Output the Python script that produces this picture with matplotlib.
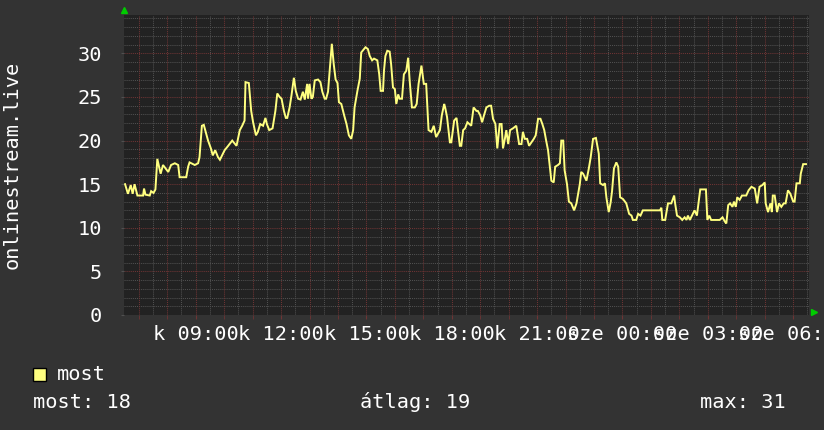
"""
onlinestream.live listener graph, one day (RRDtool look).
"""

import numpy as np
import matplotlib
matplotlib.use("Agg")
import matplotlib.pyplot as plt
from matplotlib.patches import Rectangle


# ─── Data ────────────────────────────────────────────
# minutes after Tuesday 06:30, listeners
MINUTES = [
    1, 7, 13, 17, 21, 27, 39, 41, 44, 53, 56, 61, 65, 69, 76, 81, 92, 98, 106, 113,
    116, 130, 134, 137, 148, 155, 158, 163, 167, 176, 182, 186, 191, 197, 201, 211, 217, 227, 236, 243,
    248, 253, 255, 262, 267, 271, 277, 281, 286, 292, 297, 300, 305, 312, 318, 322, 327, 331, 336, 340,
    343, 348, 352, 357, 361, 366, 371, 376, 380, 385, 387, 390, 394, 397, 401, 408, 413, 417, 422, 425,
    429, 433, 437, 441, 445, 449, 452, 457, 463, 468, 473, 478, 482, 485, 491, 496, 499, 505, 508, 513,
    517, 522, 526, 533, 537, 540, 545, 547, 550, 554, 559, 562, 566, 570, 573, 577, 580, 585, 589, 594,
    598, 601, 606, 612, 616, 620, 626, 631, 636, 641, 647, 652, 657, 661, 665, 669, 674, 676, 680, 686,
    689, 695, 700, 703, 707, 710, 714, 718, 723, 731, 736, 742, 745, 750, 754, 758, 763, 769, 773, 777,
    782, 786, 791, 795, 798, 802, 805, 809, 813, 819, 826, 832, 837, 840, 844, 849, 853, 858, 863, 867,
    872, 877, 881, 885, 889, 893, 900, 905, 908, 914, 918, 921, 925, 928, 933, 937, 942, 948, 953, 960,
    963, 967, 974, 979, 983, 988, 994, 1000, 1003, 1009, 1013, 1016, 1021, 1025, 1028, 1032, 1037, 1041, 1045, 1051,
    1058, 1064, 1069, 1072, 1079, 1083, 1088, 1093, 1100, 1107, 1118, 1129, 1132, 1134, 1140, 1146, 1153, 1159, 1161, 1165,
    1171, 1176, 1181, 1185, 1188, 1192, 1202, 1207, 1214, 1226, 1229, 1233, 1237, 1255, 1261, 1266, 1269, 1273, 1277, 1282,
    1285, 1289, 1292, 1297, 1302, 1311, 1316, 1322, 1329, 1334, 1339, 1345, 1350, 1352, 1357, 1362, 1365, 1367, 1371, 1376,
    1380, 1385, 1390, 1394, 1399, 1404, 1410, 1413, 1417, 1424, 1426, 1431, 1437,
]
LISTENERS = [
    15.0, 13.9, 14.9, 13.9, 15.0, 13.7, 13.7, 14.5, 13.8, 13.7, 14.2, 14.0, 14.4, 17.9, 16.2, 17.2, 16.4, 17.2, 17.4, 17.2,
    15.8, 15.8, 17.0, 17.5, 17.2, 17.4, 18.1, 21.7, 21.8, 20.0, 19.1, 18.3, 18.9, 18.1, 17.8, 18.9, 19.3, 20.0, 19.4, 21.2,
    21.7, 22.3, 26.7, 26.6, 23.4, 22.1, 20.6, 21.0, 21.9, 21.7, 22.6, 21.9, 21.2, 21.4, 23.4, 25.4, 25.0, 24.8, 23.4, 22.6,
    22.6, 23.8, 25.2, 27.2, 25.7, 24.8, 24.7, 25.6, 24.7, 26.5, 24.8, 26.5, 24.8, 25.0, 26.9, 27.0, 26.7, 25.6, 24.8, 24.8,
    25.6, 28.4, 31.1, 28.8, 27.0, 26.6, 24.4, 24.2, 22.9, 21.9, 20.6, 20.2, 21.2, 23.8, 25.7, 27.1, 30.1, 30.5, 30.7, 30.5,
    29.7, 29.2, 29.4, 29.2, 27.6, 25.7, 25.7, 28.0, 29.7, 30.3, 30.2, 28.8, 26.1, 25.9, 24.2, 25.3, 24.8, 24.8, 27.6, 28.0,
    29.5, 27.0, 23.8, 23.8, 24.2, 26.5, 28.6, 26.5, 26.5, 21.2, 21.0, 21.7, 20.4, 20.8, 21.2, 22.9, 24.2, 23.8, 22.7, 19.8,
    19.8, 22.3, 22.6, 21.2, 19.4, 19.4, 21.2, 21.4, 22.1, 21.7, 23.8, 23.4, 23.4, 22.9, 22.1, 22.9, 23.8, 24.0, 24.0, 22.5,
    21.9, 19.1, 21.9, 21.9, 19.1, 20.2, 21.2, 19.6, 21.2, 21.4, 21.7, 19.6, 19.6, 21.0, 20.2, 20.2, 19.4, 19.8, 20.2, 20.6,
    22.5, 22.5, 21.9, 21.2, 20.0, 18.9, 15.4, 15.2, 17.0, 17.2, 17.4, 20.0, 20.0, 16.6, 15.0, 13.0, 12.8, 12.0, 12.8, 15.0,
    16.4, 16.2, 15.4, 16.8, 18.1, 20.2, 20.3, 18.5, 15.1, 14.9, 15.1, 13.5, 11.8, 12.9, 14.2, 16.8, 17.5, 17.0, 13.5, 13.3,
    12.8, 11.6, 11.4, 10.9, 10.9, 11.6, 11.4, 12.0, 12.0, 12.0, 12.0, 12.0, 12.3, 10.9, 10.9, 12.8, 12.8, 13.7, 12.8, 11.4,
    11.2, 10.9, 11.2, 10.9, 11.4, 10.9, 12.0, 11.4, 14.4, 14.4, 10.9, 11.4, 10.9, 10.9, 11.2, 10.7, 10.5, 12.6, 12.8, 12.4,
    13.0, 12.4, 13.5, 13.2, 13.7, 13.7, 14.3, 14.7, 14.5, 12.8, 14.7, 14.9, 15.2, 12.8, 11.8, 12.8, 11.8, 13.7, 13.7, 11.8,
    12.8, 12.4, 12.8, 12.8, 14.3, 13.9, 13.0, 13.0, 15.1, 15.1, 16.2, 17.3, 17.3,
]

TICK_HOURS = [9, 12, 15, 18, 21, 24, 27, 30]
TICK_LABELS = ["k 09:00", "k 12:00", "k 15:00", "k 18:00", "k 21:00",
               "sze 00:00", "sze 03:00", "sze 06:00"]

SERIES_NAME = "most"
Y_LABEL = "onlinestream.live"
STAT_NOW, STAT_AVG, STAT_MAX = 18, 19, 31

START_HOUR = 6.5
X_RANGE = (6.479, 30.556)
Y_RANGE = (0, 34.4)

# ─── Style ───────────────────────────────────────────
CANVAS = "#333333"
BACK = "#222222"
MINOR = "#505050"
MAJOR = "#6e3434"
LINE = "#ffff80"
FONT = "DejaVu Sans Mono"
FS = 14.6

plt.rcParams["font.family"] = FONT

W, H = 824, 430
fig = plt.figure(figsize=(W / 100, H / 100), dpi=100, facecolor=CANVAS)
ax = fig.add_axes([124 / W, 1 - 315 / H, 685 / W, 300 / H])
ax.set_facecolor(BACK)

hours = START_HOUR + np.array(MINUTES) / 60.0

ax.set_xlim(*X_RANGE)
ax.set_ylim(*Y_RANGE)

# grid: grey every unit / 30 min, red every 5 units / hour
dots = (0, (1, 1))
for y in np.arange(1, 35):
    ax.axhline(y, color=MAJOR if y % 5 == 0 else MINOR, lw=0.75, ls=dots, zorder=1)
for h in np.arange(7, 31, 0.5):
    ax.axvline(h, color=MAJOR if h % 1 == 0 else MINOR, lw=0.75, ls=dots, zorder=1)

ax.plot(hours, LISTENERS, color=LINE, lw=1.4, zorder=3, solid_joinstyle="miter")

for s in ax.spines.values():
    s.set_visible(False)

ax.set_xticks(TICK_HOURS, TICK_LABELS)
ax.set_xticks(np.arange(7, 31), minor=True)
ax.set_yticks(np.arange(0, 31, 5))
ax.tick_params(axis="x", which="both", length=3, color=MAJOR, pad=4,
               labelsize=FS, labelcolor="white")
ax.tick_params(axis="y", length=2, color=MINOR, pad=14,
               labelsize=FS, labelcolor="white")

# green axis arrows
ax.plot([0], [1.017], marker="^", ms=5, color="#00cc00", mec="#00cc00",
        transform=ax.transAxes, clip_on=False)
ax.plot([1.007], [0.01], marker=">", ms=5, color="#00cc00", mec="#00cc00",
        transform=ax.transAxes, clip_on=False)

fig.text(12 / W, 1 - 165 / H, Y_LABEL, rotation=90, color="white",
         fontsize=FS, ha="center", va="center")

# legend + stats
fig.patches.append(Rectangle((33 / W, 1 - 381 / H), 13 / W, 13 / H,
                             transform=fig.transFigure, facecolor=LINE,
                             edgecolor="black", lw=1))
fig.text(57 / W, 1 - 374 / H, SERIES_NAME, color="white", fontsize=FS,
         ha="left", va="center")
fig.text(33 / W, 1 - 402 / H, f"most: {STAT_NOW}", color="white", fontsize=FS,
         ha="left", va="center")
fig.text(360 / W, 1 - 402 / H, f"átlag: {STAT_AVG}", color="white", fontsize=FS,
         ha="left", va="center")
fig.text(700 / W, 1 - 402 / H, f"max: {STAT_MAX}", color="white", fontsize=FS,
         ha="left", va="center")

fig.savefig("out.png", dpi=100, facecolor=CANVAS)
